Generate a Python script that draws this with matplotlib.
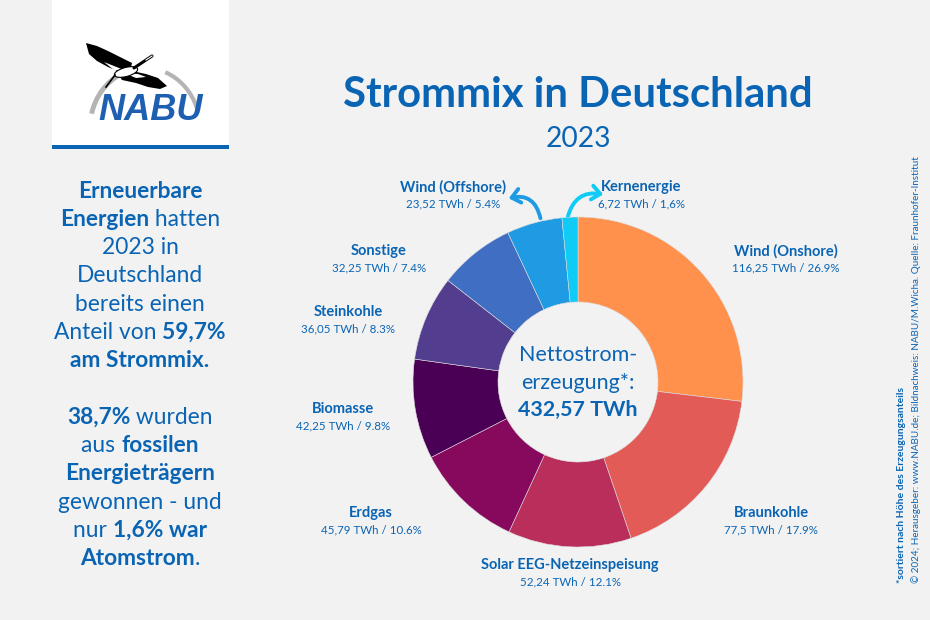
import matplotlib
matplotlib.use("Agg")
import matplotlib.pyplot as plt
from matplotlib.patches import Rectangle, FancyArrowPatch, Polygon, Ellipse, Arc

# ---------------- data ----------------
categories = ["Wind (Onshore)", "Braunkohle", "Solar EEG-Netzeinspeisung", "Erdgas",
              "Biomasse", "Steinkohle", "Sonstige", "Wind (Offshore)", "Kernenergie"]
values_twh = [116.25, 77.5, 52.24, 45.79, 42.25, 36.05, 32.25, 23.52, 6.72]
pct_labels = ["26.9%", "17.9%", "12.1%", "10.6%", "9.8%", "8.3%", "7.4%", "5.4%", "1,6%"]
total_label = "432,57 TWh"
colors = ["#FF914D", "#E35B57", "#BA2E5B", "#87095D", "#4A0055",
          "#533D8F", "#3F6EC2", "#1E9BE3", "#0FCBF5"]

# label anchor positions in pixels (name line centre)
label_pos = [(786, 251), (771, 513), (570, 565), (371, 513), (343, 409),
             (348, 312), (379, 251), (453, 187), (641, 187)]

BLUE = "#0A64B4"
BG = "#F2F2F2"
FONT = "Lato"

W, H = 930, 620
fig = plt.figure(figsize=(W / 100, H / 100), dpi=100, facecolor=BG)
ax = fig.add_axes([0, 0, 1, 1])
ax.set_xlim(0, W)
ax.set_ylim(H, 0)
ax.axis("off")
ax.set_facecolor(BG)
renderer = fig.canvas.get_renderer()


def fit(t, target, vertical=False):
    bb = t.get_window_extent(renderer)
    cur = bb.height if vertical else bb.width
    t.set_fontsize(t.get_fontsize() * target / cur)
    return t


def txt(x, y, s, size=12, bold=False, ha="center", va="center", **kw):
    return ax.text(x, y, s, fontsize=size, fontweight="bold" if bold else "normal",
                   color=kw.pop("color", BLUE), ha=ha, va=va, family=FONT, **kw)


# ---------------- logo ----------------
ax.add_patch(Rectangle((52, 0), 177, 145, facecolor="white", edgecolor="none", zorder=1))
ax.add_patch(Rectangle((52, 145), 177, 4, facecolor=BLUE, edgecolor="none", zorder=2))
ax.add_patch(Arc((145, 128), 110, 120, theta1=195, theta2=245, color="#B4B4B4", lw=3.5, zorder=2))
ax.add_patch(Arc((145, 128), 110, 120, theta1=290, theta2=340, color="#B4B4B4", lw=3, zorder=2))
# stylised stork
ax.add_patch(Polygon([(86, 43), (97, 46), (108, 51), (120, 57), (132, 63), (130, 72),
                      (120, 72), (108, 67), (97, 61), (89, 54)], facecolor="black", zorder=3))
ax.add_patch(Polygon([(104, 62), (114, 66), (124, 70), (114, 70)],
                     facecolor="white", zorder=4))
ax.add_patch(Polygon([(116, 71), (132, 71), (146, 74), (158, 78), (167, 86), (160, 89),
                      (148, 87), (136, 83), (122, 80)], facecolor="black", zorder=3))
ax.add_patch(Polygon([(124, 73), (138, 74), (146, 77), (136, 78)], facecolor="white", zorder=4))
ax.add_patch(Ellipse((126, 72), 24, 9, angle=-15, facecolor="white", edgecolor="black",
                     lw=0.8, zorder=5))
ax.plot([134, 146, 152], [68, 60, 56], color="black", lw=2.2, zorder=5, solid_capstyle="round")
ax.plot([146, 152], [60, 56], color="white", lw=0.8, zorder=6)
ax.plot([115, 106], [75, 87], color="black", lw=1.2, zorder=5)
nabu = ax.text(151, 111, "NABU", fontsize=30, fontweight="bold", fontstyle="italic",
               color="#1D5FB0", ha="center", va="center", family="Liberation Sans", zorder=5)
fit(nabu, 104)

# ---------------- title ----------------
t = txt(578, 95, "Strommix in Deutschland", size=30, bold=True)
fit(t, 470)
t = txt(578, 139, "2023", size=22)
fit(t, 65)

# ---------------- left text ----------------
left_lines = [
    [("Erneuerbare", True)],
    [("Energien", True), (" hatten", False)],
    [("2023 in", False)],
    [("Deutschland", False)],
    [("bereits einen", False)],
    [("Anteil von ", False), ("59,7%", True)],
    [("am Strommix.", True)],
    [],
    [("38,7%", True), (" wurden", False)],
    [("aus ", False), ("fossilen", True)],
    [("Energieträgern", True)],
    [("gewonnen - und", False)],
    [("nur ", False), ("1,6% war", True)],
    [("Atomstrom", True), (".", False)],
]
probe = txt(0, 0, "Erneuerbare", size=14, bold=True)
fit(probe, 126)
lsize = probe.get_fontsize()
probe.remove()
y0, dy = 191, 28.3
for i, segs in enumerate(left_lines):
    if not segs:
        continue
    y = y0 + i * dy
    objs = []
    for s, b in segs:
        objs.append(txt(0, y, s, size=lsize, bold=b, ha="left"))
    widths = [o.get_window_extent(renderer).width for o in objs]
    x = 140 - sum(widths) / 2
    for o, w in zip(objs, widths):
        o.set_x(x)
        x += w

# ---------------- donut ----------------
cx, cy, R, r_in = 578, 382, 165, 80
pax = fig.add_axes([(cx - R) / W, (H - cy - R) / H, 2 * R / W, 2 * R / H])
pax.pie(values_twh, colors=colors, startangle=90, counterclock=False, radius=1,
        wedgeprops=dict(width=1 - r_in / R, linewidth=0.4, edgecolor="#DDDDDD"))
pax.set_xlim(-1, 1)
pax.set_ylim(-1, 1)
pax.set_aspect("equal")
pax.axis("off")

# centre text
t = txt(cx, 355, "Nettostrom-", size=16)
fit(t, 118)
csize = t.get_fontsize()
txt(cx, 383, "erzeugung*:", size=csize)
t = txt(cx, 410, total_label, size=16, bold=True)
fit(t, 120)

# ---------------- labels ----------------
p = txt(0, 0, "Wind (Onshore)", size=10, bold=True)
fit(p, 104)
nsize = p.get_fontsize()
p.remove()
p = txt(0, 0, "116,25 TWh / 26.9%", size=8)
fit(p, 107)
vsize = p.get_fontsize()
p.remove()
for name, v, pc, (x, y) in zip(categories, values_twh, pct_labels, label_pos):
    txt(x, y, name, size=nsize, bold=True)
    vs = f"{v:g}".replace(".", ",") + " TWh / " + pc
    txt(x, y + 17, vs, size=vsize)

# arrows for small slices
ax.add_patch(FancyArrowPatch((541, 221), (506, 199), connectionstyle="arc3,rad=0.55",
                             arrowstyle="->,head_length=6,head_width=5", color=colors[7],
                             lw=2.8, zorder=6))
ax.add_patch(FancyArrowPatch((567, 220), (606, 195), connectionstyle="arc3,rad=-0.5",
                             arrowstyle="->,head_length=6,head_width=5", color=colors[8],
                             lw=2.8, zorder=6))

# ---------------- vertical notes ----------------
t = txt(901, 583, "*sortiert nach Höhe des Erzeugungsanteils", size=7, bold=True,
        rotation=90, va="center", ha="left", rotation_mode="anchor")
fit(t, 198, vertical=True)
t = txt(916, 583, "© 2024; Herausgeber: www.NABU.de; Bildnachweis: NABU/M.Wicha. Quelle: Fraunhofer-Institut",
        size=7, rotation=90, ha="left", va="center", rotation_mode="anchor")
fit(t, 428, vertical=True)

fig.savefig("out.png", dpi=100, facecolor=BG)
